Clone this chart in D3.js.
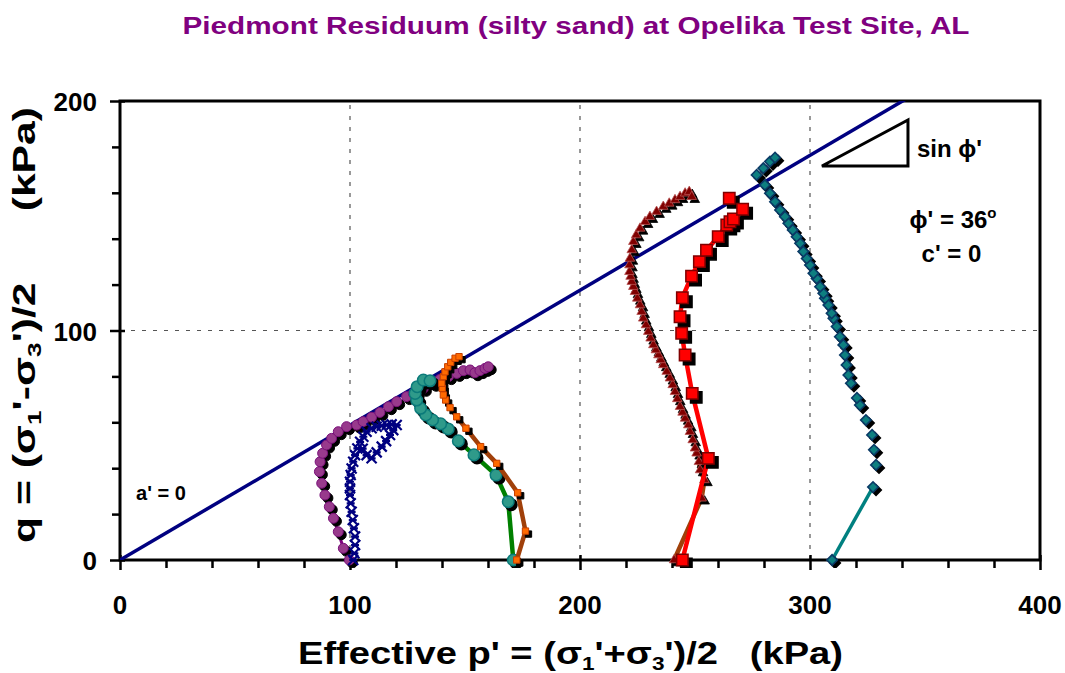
<!DOCTYPE html>
<html><head><meta charset="utf-8">
<script src="https://cdn.jsdelivr.net/npm/d3@7"></script>
<style>body{margin:0;background:#fff}svg{display:block}</style>
</head><body>
<svg id="c" width="1065" height="673"></svg>
<script>
// ---- data (p', q in kPa) ----
const xTicks = [0, 100, 200, 300, 400];
const yTicks = [0, 100, 200];
const phiDeg = 36;
const purpleCircles = [[99.7,0],[97.1,5.1],[94.9,12.3],[92.8,18.2],[91,23.2],[89.1,28.3],[87.7,33.4],[86.7,38.5],[87,42.8],[88.1,46.5],[89.8,50.1],[92,53],[94.9,55.9],[98.5,58.1],[102.9,58.8],[105.7,60.3],[109.4,62.2],[113,64.3],[116.7,66.8],[120.3,69],[124.6,71.2],[127.5,72.6],[131.9,74.8],[136.2,77],[139.1,78.7],[142.8,79.9],[146.4,81.3],[149.3,82.5],[152.2,82.8],[154.3,81.6],[156.5,82.5],[158.7,83.5],[160.1,84.2]];
const blueCrosses = [[101.4,0],[101.9,2.9],[102.2,6.5],[102.2,10.2],[101.7,13.8],[101.2,17.4],[100.7,21],[100.3,24.7],[100,28.3],[100,31.2],[100,34.1],[100.3,37],[100.7,39.9],[101.4,42.8],[102.2,45.7],[103.2,48.6],[104.4,51.5],[105.8,53.7],[107.2,55.9],[109.4,57.4],[111.6,58.1],[113.8,58.5],[116,58.8],[118.1,59.1],[120.3,58.8],[118.8,56.6],[117.4,54.5],[115.7,51.8],[113.8,49.4],[111.6,46.9],[109.4,44.3],[107.2,45.7],[105.5,48.5]];
const tealCircles = [[171,0],[168.8,25.4],[163.5,37],[153.9,45.8],[147.1,51.9],[142.7,57.1],[139.4,59.3],[135.9,61],[133,63.2],[130.7,66.1],[129,69.7],[128.3,72.6],[129.2,75.5],[131.9,78.4],[134.8,78.1]];
const orangeSquares = [[172.5,0],[176.3,12.6],[172.9,29.3],[163.8,42.1],[156.8,49.4],[150.4,57.4],[146.4,62.4],[143.5,66.4],[141.6,69.7],[140.6,71.9],[140.1,74.8],[139.9,77],[140.6,79.9],[141.3,82],[142.5,84.2],[143.8,86.1],[145.7,87.9],[147.4,88.6]];
const redTriangles = [[240.9,0],[252.9,26.9],[254.1,34.9],[252.2,39.2],[251.7,42.8],[250.7,46.5],[250,48.7],[249,52.3],[247.8,55.9],[247.1,58.8],[245.7,61.7],[244.6,64.3],[243.5,66.8],[242.3,70.2],[241.3,73.3],[240.3,76.3],[239.1,79.2],[237.7,82.1],[236.2,85],[235.1,87.2],[234.1,89.3],[233,91.5],[231.9,93.7],[230.7,96.6],[229.7,99.5],[228.7,102.4],[227.5,105.3],[226.8,108.2],[226.1,111.1],[224.9,114],[223.9,116.9],[223.2,119.1],[222.5,121.3],[222,123.5],[221.5,125.6],[221.5,128.5],[221.7,131.4],[222.5,135.1],[223.2,138.7],[224.4,141.6],[226.1,144.5],[228.3,147.4],[230.4,149.6],[233.3,151.8],[236.2,154],[238.8,155.4],[241.3,156.9],[243.5,158.3],[245.7,159.8],[247.5,160.5],[248.6,158.3]];
const redSquares = [[244.5,0],[255.8,44.3],[248.8,72.6],[245.7,89.3],[244.2,98.8],[243.5,106],[244.5,114.3],[248.5,123.7],[251.9,130],[255,135],[260.1,140.9],[263.8,146],[265.2,147.4],[266.7,148.6],[270.7,152.8],[264.9,157.6]];
const tealDiamonds = [[309.6,0],[327.4,31.8],[328.7,41.4],[327.8,48],[327,54.5],[324.3,61],[321.7,67.5],[320.4,70.6],[317.8,77],[316.7,80.6],[315.9,85],[315.2,89.3],[314.5,93.7],[313,97.3],[311.6,101.7],[310.2,105.3],[309.4,107.5],[308,111.1],[306.5,114],[305.8,116.2],[304.4,119.1],[302.9,122.7],[301.5,124.9],[300,128.5],[298.6,131.4],[297.1,134.4],[295.7,138],[294.2,140.9],[292.5,143.8],[290.6,146.7],[289.1,149.6],[287,152.5],[284.8,156.1],[282.6,159.8],[280.4,163.4],[276.8,167.8],[279.7,170.7],[282.6,173.6],[284.8,175.3]];

// ---- layout ----
const svg = d3.select('#c');
const x = d3.scaleLinear().domain([0, 400]).range([120, 1040]);
const y = d3.scaleLinear().domain([0, 200]).range([560, 101]);
const font = "Arial, 'Liberation Sans', sans-serif";

svg.append('defs').append('clipPath').attr('id','clip')
  .append('rect').attr('x',x(0)-6).attr('y',y(200)).attr('width',x(400)-x(0)+6).attr('height',y(0)-y(200)+8);
svg.append('defs').append('clipPath').attr('id','clipL')
  .append('rect').attr('x',x(0)).attr('y',y(200)).attr('width',x(400)-x(0)).attr('height',y(0)-y(200));

// grid
const g = svg.append('g');
g.selectAll('.gx').data([100,200,300]).join('line')
  .attr('x1',d=>x(d)).attr('x2',d=>x(d)).attr('y1',y(0)).attr('y2',y(200))
  .attr('stroke','#555').attr('stroke-width',1.2).attr('stroke-dasharray','4,7');
g.selectAll('.gy').data([100]).join('line')
  .attr('x1',x(0)).attr('x2',x(400)).attr('y1',d=>y(d)).attr('y2',d=>y(d))
  .attr('stroke','#555').attr('stroke-width',1.2).attr('stroke-dasharray','4,7');

// axes
const xAxis = d3.axisBottom(x).tickValues(d3.range(0,401,20)).tickSize(8).tickFormat('');
const yAxis = d3.axisLeft(y).tickValues(d3.range(0,201,20)).tickSize(8).tickFormat('');
const ax = svg.append('g').attr('transform',`translate(0,${y(0)})`).call(xAxis);
const ay = svg.append('g').attr('transform',`translate(${x(0)},0)`).call(yAxis);
[ax, ay].forEach(a => {
  a.select('.domain').remove();
  a.selectAll('line').attr('stroke','#000').attr('stroke-width',2.5);
});
ax.selectAll('.tick').filter(d=>d%100===0).select('line').attr('y1',-5).attr('y2',10);
ay.selectAll('.tick').filter(d=>d%100===0).select('line').attr('x1',5).attr('x2',-10);
// frame
svg.append('rect').attr('x',x(0)).attr('y',y(200)).attr('width',x(400)-x(0)).attr('height',y(0)-y(200))
  .attr('fill','none').attr('stroke','#000').attr('stroke-width',3);

// tick labels
svg.selectAll('.xl').data(xTicks).join('text')
  .attr('x',d=>x(d)).attr('y',y(0)+54).attr('text-anchor','middle')
  .attr('font-family',font).attr('font-weight','bold').attr('font-size',26).text(d=>d);
svg.selectAll('.yl').data(yTicks).join('text')
  .attr('x',x(0)-23).attr('y',d=>y(d)+10).attr('text-anchor','end')
  .attr('font-family',font).attr('font-weight','bold').attr('font-size',26).text(d=>d);

// failure line
const sinPhi = Math.sin(phiDeg*Math.PI/180);
const pEnd = 200/sinPhi + 10;
svg.append('line').attr('clip-path','url(#clipL)')
  .attr('x1',x(0)).attr('y1',y(0)).attr('x2',x(pEnd)).attr('y2',y(pEnd*sinPhi))
  .attr('stroke','#000080').attr('stroke-width',3.5);

// triangle annotation
const triPts = [[305.2,171.7],[342.6,191.7],[342.6,171.7]];
svg.append('path').attr('d', d3.line().x(d=>x(d[0])).y(d=>y(d[1]))(triPts)+'Z')
  .attr('fill','none').attr('stroke','#000').attr('stroke-width',3);

const line = d3.line().x(d=>x(d[0])).y(d=>y(d[1]));
const P = svg.append('g').attr('clip-path','url(#clip)');

function drawLine(data, color, w){
  P.append('path').attr('d',line(data)).attr('fill','none').attr('stroke',color).attr('stroke-width',w).attr('stroke-linejoin','round');
}
function drawMarkers(data, shapeFn, fill, stroke, sw, shadow){
  if (shadow) {
    P.append('g').selectAll('path').data(data).join('path')
      .attr('d',shapeFn).attr('transform',d=>`translate(${x(d[0])+shadow},${y(d[1])+shadow})${shapeFn.rot||''}`)
      .attr('fill','#000').attr('stroke','#000').attr('stroke-width',sw);
  }
  P.append('g').selectAll('path').data(data).join('path')
    .attr('d',shapeFn).attr('transform',d=>`translate(${x(d[0])},${y(d[1])})${shapeFn.rot||''}`)
    .attr('fill',fill).attr('stroke',stroke).attr('stroke-width',sw);
}
const sym = (type,size,rot)=>{ const f = ()=>d3.symbol().type(type).size(size)(); f.rot = rot; return f; };
const xShape = ()=> 'M-5,-5L5,5M-5,5L5,-5M-4,0L4,0';

// purple circles
drawLine(purpleCircles.slice(0,6), '#800080', 3);
drawMarkers(purpleCircles, sym(d3.symbolCircle, 78), '#983a8c', '#7a107a', 1, 3);
// blue crosses
P.append('g').selectAll('path').data(blueCrosses).join('path')
  .attr('d',xShape).attr('transform',d=>`translate(${x(d[0])},${y(d[1])})`)
  .attr('fill','none').attr('stroke','#000080').attr('stroke-width',2.2);
// teal circles with green line
drawLine(tealCircles, '#008000', 4.5);
drawMarkers(tealCircles, sym(d3.symbolCircle, 105), '#2f9a8a', '#0b7a7a', 1.5, 3);
// orange squares with brown line
drawLine(orangeSquares, '#a0400a', 4.5);
drawMarkers(orangeSquares, sym(d3.symbolSquare, 40), '#ff6a00', '#c84000', 1, 3);
// dark red triangles
drawLine(redTriangles.slice(0,5), '#a0400a', 4.5);
drawMarkers(redTriangles, sym(d3.symbolTriangle, 40), '#800000', '#b85050', 0.8, 3);
// red squares with red line
drawLine(redSquares, '#ff0000', 4.5);
drawMarkers(redSquares, sym(d3.symbolSquare, 130), '#ff0000', '#800000', 1.5, 4);
// teal diamonds
drawLine(tealDiamonds.slice(0,2), '#008080', 3.5);
drawMarkers(tealDiamonds, sym(d3.symbolSquare, 55, ' rotate(45)'), '#0e7f80', '#0a3a66', 1.6, 3);

// annotations
const T = (px, py, size, anchor) => svg.append('text').attr('x',x(px)).attr('y',y(py))
  .attr('font-family',font).attr('font-weight','bold').attr('font-size',size)
  .attr('text-anchor',anchor||'middle');
T(346.5, 175.6, 24, 'start').text("sin \u03D5'");
const phiT = T(362.2, 144.7, 24);
phiT.append('tspan').text("\u03D5' = 36");
phiT.append('tspan').attr('font-size',15).attr('dy',-10).text('o');
T(361.5, 129.8, 24).text("c' = 0");
T(7, 26, 20, 'start').text("a' = 0");

// title
svg.append('text').attr('x',576).attr('y',34).attr('text-anchor','middle')
  .attr('font-family',font).attr('font-weight','bold').attr('font-size',24).attr('fill','#800080')
  .attr('textLength',787).attr('lengthAdjust','spacingAndGlyphs')
  .text('Piedmont Residuum (silty sand) at Opelika Test Site, AL');

// x label
const xl = svg.append('text').attr('x',298).attr('y',664).attr('font-family',font)
  .attr('font-weight','bold').attr('font-size',32).attr('textLength',545).attr('lengthAdjust','spacingAndGlyphs')
  .attr('xml:space','preserve');
xl.append('tspan').text("Effective p' = (\u03C3");
xl.append('tspan').attr('font-size',19).attr('dy',6).text('1');
xl.append('tspan').attr('dy',-6).text("'+\u03C3");
xl.append('tspan').attr('font-size',19).attr('dy',6).text('3');
xl.append('tspan').attr('dy',-6).text("')/2   (kPa)");

// y label
const yl = svg.append('text').attr('transform','translate(35,543) rotate(-90)').attr('x',0).attr('y',0)
  .attr('font-family',font).attr('font-weight','bold').attr('font-size',31).attr('textLength',436)
  .attr('lengthAdjust','spacingAndGlyphs').attr('xml:space','preserve');
yl.append('tspan').text("q = (\u03C3");
yl.append('tspan').attr('font-size',19).attr('dy',6).text('1');
yl.append('tspan').attr('dy',-6).text("'-\u03C3");
yl.append('tspan').attr('font-size',19).attr('dy',6).text('3');
yl.append('tspan').attr('dy',-6).text("')/2      (kPa)");
</script>
</body></html>
